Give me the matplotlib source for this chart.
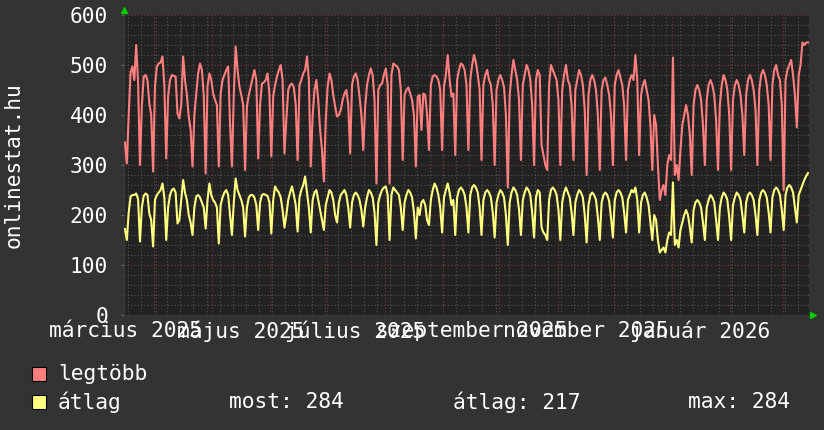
import datetime as dt
import numpy as np
import matplotlib
matplotlib.use("Agg")
import matplotlib.pyplot as plt
import matplotlib.dates as mdates
from matplotlib.patches import Rectangle
from matplotlib.transforms import blended_transform_factory

START = dt.date(2025, 3, 15)
END = dt.date(2026, 3, 15)

# napi ertekek, egy sor egy het (vasarnaptol szombatig)
legtobb = [
    345,
    303, 400, 485, 497, 470, 540, 465,
    300, 417, 477, 480, 470, 423, 400,
    287, 457, 497, 503, 505, 517, 460,
    313, 437, 470, 480, 478, 477, 403,
    393, 420, 517, 470, 440, 397, 370,
    297, 400, 443, 483, 503, 490, 440,
    283, 457, 483, 470, 443, 430, 420,
    297, 443, 470, 480, 490, 497, 383,
    297, 440, 537, 490, 457, 440, 420,
    290, 417, 440, 457, 475, 490, 470,
    313, 420, 463, 465, 470, 483, 440,
    317, 437, 460, 477, 490, 500, 470,
    323, 390, 450, 460, 463, 455, 420,
    310, 460, 470, 483, 490, 517, 470,
    297, 397, 450, 470, 430, 370, 330,
    267, 390, 457, 483, 470, 440, 417,
    397, 400, 410, 430, 443, 450, 420,
    323, 460, 477, 483, 470, 437, 400,
    330, 417, 460, 480, 493, 480, 430,
    263, 450, 460, 463, 480, 493, 460,
    263, 480, 503, 500, 497, 490, 450,
    310, 440, 450, 455, 443, 430, 400,
    297, 437, 440, 370, 443, 440, 400,
    330, 460, 477, 480, 477, 470, 450,
    330, 457, 480, 520, 470, 437, 443,
    320, 470, 490, 503, 500, 490, 460,
    330, 470, 500, 520, 505, 480, 450,
    310, 460, 480, 490, 470, 460, 420,
    300, 450, 470, 480, 470, 455, 400,
    255, 440, 480, 510, 490, 470, 430,
    310, 460, 480, 500, 490, 470, 420,
    300, 470, 490, 480, 340, 320, 300,
    290, 460, 500, 490, 480, 470, 430,
    300, 450, 480, 500, 470, 460, 420,
    310, 450, 470, 490, 480, 460, 410,
    280, 440, 470, 480, 470, 450, 400,
    290, 450, 470, 475, 460, 440, 400,
    300, 460, 480, 490, 475, 460, 420,
    310, 450, 470, 480, 470, 520, 470,
    320, 440, 460, 470, 450, 430, 380,
    290, 400, 380, 300, 230, 250, 260,
    240, 300, 320, 310, 515, 280, 300,
    270, 330, 380, 400, 420, 400, 360,
    280, 420, 450, 460, 450, 430, 380,
    300, 430, 460, 470, 460, 440, 390,
    290, 420, 460, 480, 470, 450, 400,
    290, 430, 460, 470, 460, 440, 400,
    320, 440, 470, 480, 470, 450, 410,
    300, 450, 480, 490, 480, 460, 420,
    310, 460, 490, 500, 480, 470, 420,
    250, 470, 490, 500, 510, 480, 440,
    375, 480, 500, 545, 540, 545, 545,
]

atlag = [
    172,
    150, 205, 237, 240, 240, 243, 232,
    147, 215, 238, 243, 240, 203, 190,
    137, 230, 240, 245, 250, 263, 235,
    150, 215, 240, 250, 253, 245, 183,
    190, 230, 270, 245, 230, 200, 185,
    160, 215, 237, 240, 235, 225, 215,
    173, 230, 263, 240, 230, 225, 215,
    143, 220, 235, 245, 250, 240, 200,
    160, 225, 273, 250, 240, 230, 215,
    157, 215, 235, 240, 240, 235, 220,
    170, 225, 240, 242, 240, 238, 225,
    163, 230, 257, 250, 245, 235, 210,
    175, 200, 230, 245, 257, 240, 220,
    167, 235, 250, 260, 277, 245, 215,
    165, 230, 245, 250, 230, 210, 190,
    170, 220, 235, 250, 245, 230, 200,
    185, 225, 240, 245, 250, 240, 215,
    175, 225, 240, 245, 240, 230, 210,
    177, 215, 235, 250, 245, 235, 205,
    140, 225, 240, 250, 255, 257, 240,
    150, 240, 255, 250, 245, 240, 215,
    170, 225, 240, 250, 245, 235, 205,
    153, 215, 200, 225, 230, 220, 190,
    180, 230, 250, 263, 255, 240, 215,
    165, 235, 250, 263, 245, 220, 230,
    160, 235, 250, 255, 250, 240, 215,
    165, 240, 255, 260, 255, 245, 215,
    160, 230, 245, 250, 245, 235, 205,
    155, 225, 240, 250, 245, 235, 200,
    140, 225, 245, 255, 250, 240, 210,
    160, 230, 245, 255, 250, 240, 205,
    155, 235, 250, 245, 175, 165, 160,
    150, 230, 250, 255, 250, 240, 210,
    150, 225, 245, 255, 245, 235, 205,
    160, 225, 240, 250, 245, 235, 200,
    145, 220, 240, 245, 240, 230, 195,
    150, 225, 240, 245, 240, 228, 195,
    155, 230, 245, 250, 245, 235, 205,
    165, 230, 240, 250, 245, 255, 230,
    165, 225, 240, 245, 235, 220, 185,
    150, 200, 190, 150, 125, 130, 135,
    125, 150, 165, 160, 265, 140, 150,
    135, 170, 185, 200, 210, 200, 175,
    145, 210, 225, 230, 225, 215, 185,
    150, 215, 230, 240, 235, 225, 190,
    150, 215, 235, 245, 240, 230, 195,
    150, 220, 235, 245, 240, 230, 200,
    165, 225, 240, 245, 240, 230, 200,
    160, 230, 245, 250, 245, 235, 205,
    165, 235, 250, 255, 250, 240, 210,
    170, 240, 255, 260, 255, 245, 215,
    185, 240, 250, 260, 270, 278, 284,
]

label_months = [(2025, 3), (2025, 5), (2025, 7), (2025, 9), (2025, 11), (2026, 1)]
month_labels = ["március 2025", "május 2025", "július 2025",
                "szeptember 2025", "november 2025", "január 2026"]
y_ticks = [0, 100, 200, 300, 400, 500, 600]

most_val, atlag_val, max_val = 284, 217, 284

BG = "#333333"
CANVAS = "#222222"
MAX_COL = "#ff7f7f"
AVG_COL = "#ffff80"
MINOR_COL = "#555555"
MAJOR_COL = "#7a3a3a"
FONT = "DejaVu Sans Mono"
FS = 15.3

W, H = 824, 430


def fx(px):
    return px / W


def fy(py):
    return 1 - py / H


fig = plt.figure(figsize=(W / 100, H / 100), dpi=100, facecolor=BG)
ax = fig.add_axes([fx(124), fy(315), 685 / W, 300 / H], facecolor=CANVAS)

x0 = mdates.date2num(START)
x1 = mdates.date2num(END)
days = x0 + np.arange(len(legtobb)) + 0.5

# racs: vizszintes
for v in range(0, 601, 20):
    if v % 100 == 0:
        ax.axhline(v, color=MAJOR_COL, lw=0.8, ls=(0, (1, 2)), zorder=1)
    else:
        ax.axhline(v, color=MINOR_COL, lw=0.8, ls=(0, (1, 2)), zorder=1)

# racs: heti es havi fuggoleges
monday = START + dt.timedelta(days=2)
d = monday
while d < END:
    ax.axvline(mdates.date2num(d), color=MINOR_COL, lw=0.8, ls=(0, (1, 2)), zorder=1)
    d += dt.timedelta(days=7)

y, m = 2025, 4
while dt.date(y, m, 1) < END:
    ax.axvline(mdates.date2num(dt.date(y, m, 1)), color=MAJOR_COL, lw=0.8,
               ls=(0, (1, 2)), zorder=1)
    m += 1
    if m > 12:
        m, y = 1, y + 1

ax.plot(days, legtobb, color=MAX_COL, lw=1.5, zorder=3)
ax.plot(days, atlag, color=AVG_COL, lw=1.5, zorder=3)

ax.set_xlim(x0, x1)
ax.set_ylim(0, 600)

for s in ax.spines.values():
    s.set_visible(False)
ax.spines["left"].set_visible(True)
ax.spines["left"].set_color("#3a3a3a")

ax.set_yticks(y_ticks)
ax.set_yticklabels([str(v) for v in y_ticks], color="white",
                   fontsize=FS, family=FONT)
ax.tick_params(axis="y", length=2, color="#666666", pad=9.5)
ax.set_xticks([])

trans = blended_transform_factory(ax.transData, ax.transAxes)
for (yy, mm), lab in zip(label_months, month_labels):
    xc = mdates.date2num(dt.date(yy, mm, 1)) + 15
    ax.text(xc, -16 / 300, lab, transform=trans, ha="center", va="center",
            color="white", fontsize=FS, family=FONT, clip_on=False)

# zold nyilak
ax.plot([0], [1.0 + 5 / 300], marker="^", color="#00cc00", ms=5,
        transform=ax.transAxes, clip_on=False)
ax.plot([1.0 + 4 / 685], [0], marker=">", color="#00cc00", ms=5,
        transform=ax.transAxes, clip_on=False)

fig.text(fx(14), fy(165), "onlinestat.hu", rotation=90, ha="center",
         va="center", color="white", fontsize=FS, family=FONT)

# jelmagyarazat
for row, (col, name) in enumerate([(MAX_COL, "legtöbb"), (AVG_COL, "átlag")]):
    yc = 374 + row * 28
    fig.patches.append(Rectangle((fx(32), fy(yc + 7)), 14 / W, 14 / H,
                                 transform=fig.transFigure, facecolor=col,
                                 edgecolor="black", lw=0.8))
    fig.text(fx(58), fy(yc), name, ha="left", va="center", color="white",
             fontsize=FS, family=FONT)

fig.text(fx(229), fy(402), f"most: {most_val}", ha="left", va="center",
         color="white", fontsize=FS, family=FONT)
fig.text(fx(453), fy(402), f"átlag: {atlag_val}", ha="left", va="center",
         color="white", fontsize=FS, family=FONT)
fig.text(fx(688), fy(402), f"max: {max_val}", ha="left", va="center",
         color="white", fontsize=FS, family=FONT)

fig.savefig("out.png", dpi=100, facecolor=BG)
